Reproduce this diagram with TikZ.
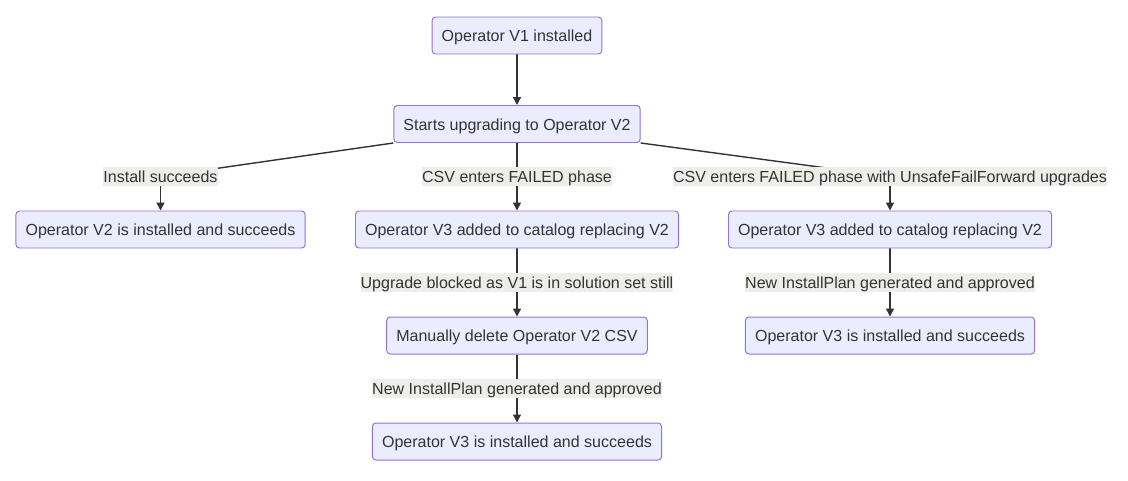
\documentclass[tikz,border=0pt]{standalone}
\usepackage{fontspec}
\setmainfont{Liberation Sans}
\usepackage{xcolor}
\usetikzlibrary{arrows.meta, positioning, backgrounds}

\definecolor{boxfill}{HTML}{ECECFF}
\definecolor{boxline}{HTML}{9370DB}
\definecolor{inktext}{HTML}{333333}
\definecolor{labelbg}{HTML}{EDEDEA}

\tikzset{
    stepbox/.style={draw=boxline, fill=boxfill, line width=0.7pt, rounded corners=2.5pt,
        minimum height=0.925cm, inner xsep=0.24cm, inner ysep=0pt, text=inktext,
        text height=0.36cm, text depth=0.06cm,
        font=\fontsize{11.4}{13.7}\selectfont},
    edgelabel/.style={fill=labelbg, inner xsep=0pt, inner ysep=0pt, minimum height=0.47cm,
        text height=0.36cm, text depth=0.06cm,
        text=inktext, font=\fontsize{11.4}{13.7}\selectfont},
    flow/.style={draw=inktext, line width=1pt},
    flowarrow/.style={flow, -{Triangle[length=2mm, width=2mm]}}
}

\begin{document}
\begin{tikzpicture}
    \useasboundingbox (0,0) rectangle (28.2,-12);

    % --- Top of the chart ---
    \node[stepbox] (v1) at (12.925, -0.8875) {Operator V1 installed};
    \node[stepbox] (upgrade) at (12.925, -3.1) {Starts upgrading to Operator V2};

    % --- Left branch: install succeeds ---
    \node[edgelabel] (l_ok) at (4.0125, -4.4125) {Install succeeds};
    \node[stepbox] (v2_ok) at (4.0125, -5.7375) {Operator V2 is installed and succeeds};

    % --- Middle branch: CSV failed, manual fix ---
    \node[edgelabel] (l_fail) at (12.925, -4.4125) {CSV enters FAILED phase};
    \node[stepbox] (v3_cat) at (12.925, -5.7375) {Operator V3 added to catalog replacing V2};
    \node[edgelabel] (l_block) at (12.925, -7.0625) {Upgrade blocked as V1 is in solution set still};
    \node[stepbox] (delete) at (12.925, -8.3875) {Manually delete Operator V2 CSV};
    \node[edgelabel] (l_plan) at (12.925, -9.7125) {New InstallPlan generated and approved};
    \node[stepbox] (v3_ok) at (12.925, -11.0375) {Operator V3 is installed and succeeds};

    % --- Right branch: UnsafeFailForward ---
    \node[edgelabel] (l_unsafe) at (22.25, -4.4125) {CSV enters FAILED phase with UnsafeFailForward upgrades};
    \node[stepbox] (v3_cat_uf) at (22.25, -5.7375) {Operator V3 added to catalog replacing V2};
    \node[edgelabel] (l_plan_uf) at (22.25, -7.0625) {New InstallPlan generated and approved};
    \node[stepbox] (v3_ok_uf) at (22.25, -8.3875) {Operator V3 is installed and succeeds};

    % --- Connectors (behind the labels) ---
    \begin{scope}[on background layer]
        \draw[flowarrow] (v1) -- (upgrade);

        \draw[flow] (upgrade.south west) -- (l_ok.center);
        \draw[flowarrow] (l_ok.center) -- (v2_ok.north);

        \draw[flow] (upgrade.south) -- (l_fail.center);
        \draw[flowarrow] (l_fail.center) -- (v3_cat.north);
        \draw[flow] (v3_cat.south) -- (l_block.center);
        \draw[flowarrow] (l_block.center) -- (delete.north);
        \draw[flow] (delete.south) -- (l_plan.center);
        \draw[flowarrow] (l_plan.center) -- (v3_ok.north);

        \draw[flow] (upgrade.south east) -- (l_unsafe.center);
        \draw[flowarrow] (l_unsafe.center) -- (v3_cat_uf.north);
        \draw[flow] (v3_cat_uf.south) -- (l_plan_uf.center);
        \draw[flowarrow] (l_plan_uf.center) -- (v3_ok_uf.north);
    \end{scope}
\end{tikzpicture}
\end{document}
